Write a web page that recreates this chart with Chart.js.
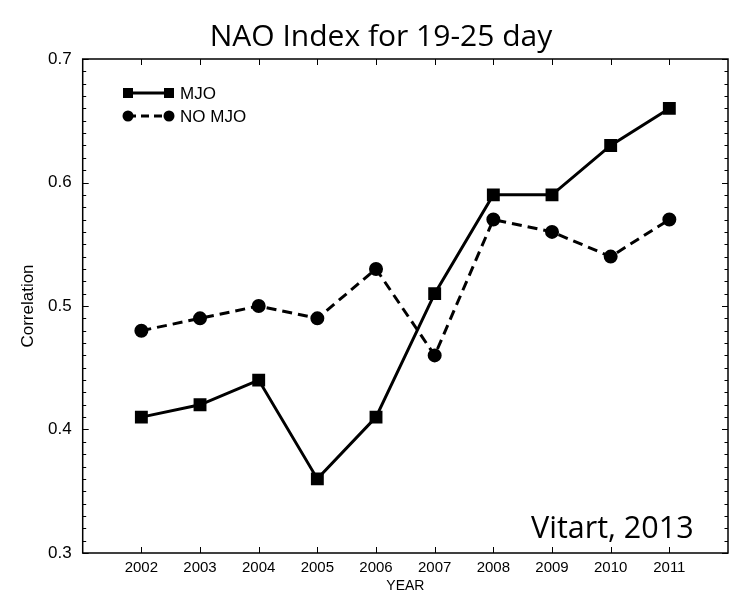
<!DOCTYPE html>
<html>
<head>
<meta charset="utf-8">
<script src="https://cdn.jsdelivr.net/npm/chart.js@4.4.1/dist/chart.umd.min.js"></script>
<style>
  html, body { margin: 0; padding: 0; background: #fff; }
  #wrap { width: 731px; height: 592px; }
</style>
</head>
<body>
<div id="wrap"><canvas id="c" width="731" height="592"></canvas></div>
<script>
const years = [2002, 2003, 2004, 2005, 2006, 2007, 2008, 2009, 2010, 2011];
const mjo   = [0.41, 0.42, 0.44, 0.36, 0.41, 0.51, 0.59, 0.59, 0.63, 0.66];
const noMjo = [0.48, 0.49, 0.50, 0.49, 0.53, 0.46, 0.57, 0.56, 0.54, 0.57];
const yTicks = [0.3, 0.4, 0.5, 0.6, 0.7];
const titleText = 'NAO Index for 19-25 day';
const creditText = 'Vitart, 2013';
const seriesNames = ['MJO', 'NO MJO'];

const toXY = arr => years.map((yr, i) => ({ x: yr, y: arr[i] }));

const framePlugin = {
  id: 'frame',
  afterDraw(chart) {
    const ctx = chart.ctx;
    const a = chart.chartArea;
    const xs = chart.scales.x, ys = chart.scales.y;
    ctx.save();
    ctx.strokeStyle = '#000';
    ctx.lineWidth = 1.5;
    ctx.strokeRect(a.left, a.top, a.right - a.left, a.bottom - a.top);
    ctx.lineWidth = 1;
    years.forEach(yr => {
      const px = Math.round(xs.getPixelForValue(yr)) + 0.5;
      ctx.beginPath();
      ctx.moveTo(px, a.bottom); ctx.lineTo(px, a.bottom - 6);
      ctx.moveTo(px, a.top); ctx.lineTo(px, a.top + 6);
      ctx.stroke();
    });
    for (let k = 30; k <= 70; k++) {
      const py = Math.round(ys.getPixelForValue(k / 100)) + 0.5;
      const len = (k % 10 === 0) ? 6 : 3.5;
      ctx.beginPath();
      ctx.moveTo(a.left, py); ctx.lineTo(a.left + len, py);
      ctx.moveTo(a.right, py); ctx.lineTo(a.right - len, py);
      ctx.stroke();
    }
    ctx.fillStyle = '#000';
    ctx.font = '30px "Open Sans"';
    ctx.textAlign = 'center';
    ctx.textBaseline = 'alphabetic';
    ctx.fillText(titleText, 381, 46);
    ctx.font = '30.5px "Open Sans"';
    ctx.textAlign = 'left';
    ctx.fillText(creditText, 531, 538);
    const legY = [93, 116];
    const x1 = 128, x2 = 169;
    ctx.lineWidth = 3;
    legY.forEach((ly, i) => {
      ctx.beginPath();
      ctx.setLineDash(i === 0 ? [] : [8, 5]);
      ctx.moveTo(x1, ly); ctx.lineTo(x2, ly);
      ctx.stroke();
      ctx.setLineDash([]);
      [x1, x2].forEach(mx => {
        if (i === 0) {
          ctx.fillRect(mx - 5, ly - 5, 10, 10);
        } else {
          ctx.beginPath(); ctx.arc(mx, ly, 5.5, 0, Math.PI * 2); ctx.fill();
        }
      });
      ctx.font = '17px "Liberation Sans"';
      ctx.textBaseline = 'middle';
      ctx.fillText(seriesNames[i], 180, ly + 1);
    });
    ctx.restore();
  }
};

new Chart(document.getElementById('c'), {
  type: 'line',
  data: {
    datasets: [
      {
        label: seriesNames[0],
        data: toXY(mjo),
        borderColor: '#000',
        backgroundColor: '#000',
        borderWidth: 3,
        pointStyle: 'rect',
        pointRadius: 7,
        pointHoverRadius: 7,
        tension: 0
      },
      {
        label: seriesNames[1],
        data: toXY(noMjo),
        borderColor: '#000',
        backgroundColor: '#000',
        borderWidth: 3,
        borderDash: [10, 6],
        pointStyle: 'circle',
        pointRadius: 5.5,
        pointHoverRadius: 5.5,
        tension: 0
      }
    ]
  },
  options: {
    responsive: false,
    animation: false,
    layout: { autoPadding: false, padding: { left: 0, right: 3, top: 59, bottom: 0 } },
    plugins: { legend: { display: false }, title: { display: false }, tooltip: { enabled: false } },
    scales: {
      x: {
        type: 'linear',
        min: 2001, max: 2012,
        grid: { display: false, drawTicks: false },
        border: { display: false },
        afterFit(s) { s.height = 39; s.paddingLeft = 0; s.paddingRight = 0; },
        afterBuildTicks(s) { s.ticks = years.map(v => ({ value: v })); },
        ticks: {
          color: '#000',
          font: { family: '"Liberation Sans"', size: 15 },
          padding: 6,
          maxRotation: 0,
          callback: v => String(v)
        },
        title: {
          display: true, text: 'YEAR', color: '#000',
          font: { family: '"Liberation Sans"', size: 14 },
          padding: { top: 0, bottom: -3 }
        }
      },
      y: {
        min: 0.3, max: 0.7,
        grid: { display: false, drawTicks: false },
        border: { display: false },
        afterFit(s) { s.width = 82.7; s.paddingTop = 0; s.paddingBottom = 0; },
        afterBuildTicks(s) { s.ticks = yTicks.map(v => ({ value: v })); },
        ticks: {
          color: '#000',
          font: { family: '"Liberation Sans"', size: 17 },
          padding: 11,
          callback: v => v.toFixed(1)
        },
        title: {
          display: true, text: 'Correlation', color: '#000',
          font: { family: '"Liberation Sans"', size: 17 },
          padding: { top: 18, bottom: 0 }
        }
      }
    }
  },
  plugins: [framePlugin]
});
</script>
</body>
</html>
